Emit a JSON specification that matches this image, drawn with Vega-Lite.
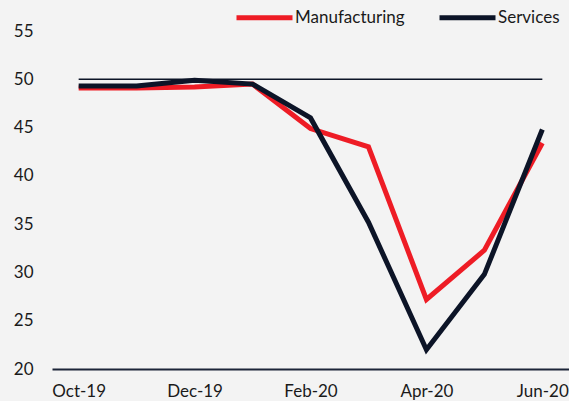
{
  "$schema": "https://vega.github.io/schema/vega-lite/v6.json",
  "width": 517,
  "height": 338,
  "autosize": {"type": "none"},
  "padding": {"left": 52, "top": 31, "right": 0, "bottom": 32},
  "background": "#f3f3f3",
  "config": {
    "view": {"stroke": null},
    "font": "Lato",
    "axis": {"labelFont": "Lato", "labelFontSize": 17, "labelColor": "#1a1a1a", "grid": false, "ticks": false, "title": null}
  },
  "datasets": {
    "pmi": [
      {"month": "Oct-19", "series": "Manufacturing", "value": 49.1},
      {"month": "Nov-19", "series": "Manufacturing", "value": 49.1},
      {"month": "Dec-19", "series": "Manufacturing", "value": 49.2},
      {"month": "Jan-20", "series": "Manufacturing", "value": 49.5},
      {"month": "Feb-20", "series": "Manufacturing", "value": 44.9},
      {"month": "Mar-20", "series": "Manufacturing", "value": 43.0},
      {"month": "Apr-20", "series": "Manufacturing", "value": 27.2},
      {"month": "May-20", "series": "Manufacturing", "value": 32.3},
      {"month": "Jun-20", "series": "Manufacturing", "value": 43.4},
      {"month": "Oct-19", "series": "Services", "value": 49.3},
      {"month": "Nov-19", "series": "Services", "value": 49.3},
      {"month": "Dec-19", "series": "Services", "value": 49.9},
      {"month": "Jan-20", "series": "Services", "value": 49.5},
      {"month": "Feb-20", "series": "Services", "value": 46.0},
      {"month": "Mar-20", "series": "Services", "value": 35.2},
      {"month": "Apr-20", "series": "Services", "value": 22.0},
      {"month": "May-20", "series": "Services", "value": 29.8},
      {"month": "Jun-20", "series": "Services", "value": 44.8}
    ],
    "threshold": [
      {"month": "Oct-19", "value": 50},
      {"month": "Jun-20", "value": 50}
    ]
  },
  "layer": [
    {
      "data": {"name": "threshold"},
      "mark": {"type": "line", "color": "#0c1427", "strokeWidth": 1.5},
      "encoding": {
        "x": {"field": "month", "type": "ordinal"},
        "y": {"field": "value", "type": "quantitative"}
      }
    },
    {
      "data": {"name": "pmi"},
      "mark": {"type": "line", "strokeWidth": 5, "strokeJoin": "miter"},
      "encoding": {
        "x": {
          "field": "month", "type": "ordinal",
          "scale": {"type": "point", "padding": 0.46, "domain": ["Oct-19","Nov-19","Dec-19","Jan-20","Feb-20","Mar-20","Apr-20","May-20","Jun-20"]},
          "axis": {"values": ["Oct-19","Dec-19","Feb-20","Apr-20","Jun-20"], "labelAngle": 0, "labelAlign": "center", "domainColor": "#1c2538", "domainWidth": 2, "labelPadding": 22, "labelOverlap": false, "labelBound": false}
        },
        "y": {
          "field": "value", "type": "quantitative",
          "scale": {"domain": [20, 55], "nice": false, "zero": false},
          "axis": {"values": [20,25,30,35,40,45,50,55], "domain": false, "labelPadding": 19}
        },
        "color": {
          "field": "series", "type": "nominal",
          "scale": {"domain": ["Manufacturing", "Services"], "range": ["#ee1c25", "#0c1427"]},
          "legend": {
            "title": null, "orient": "none", "direction": "horizontal",
            "legendX": 182, "legendY": -44,
            "symbolType": "stroke", "symbolSize": 3136, "symbolStrokeWidth": 5,
            "labelFontSize": 17, "labelFont": "Lato", "labelColor": "#1a1a1a",
            "labelOffset": 0, "columnPadding": 24
          }
        }
      }
    }
  ]
}
